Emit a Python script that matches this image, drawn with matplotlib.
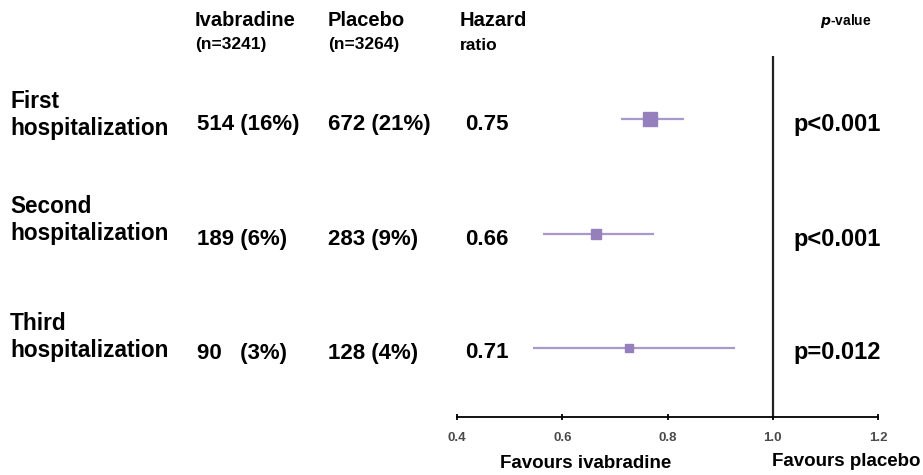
import matplotlib.pyplot as plt

plt.rcParams['font.family'] = ['Liberation Sans', 'DejaVu Sans']

# data
rows = ['First\nhospitalization', 'Second\nhospitalization', 'Third\nhospitalization']
ivabradine = ['514 (16%)', '189 (6%)', '90   (3%)']
placebo = ['672 (21%)', '283 (9%)', '128 (4%)']
hr_labels = ['0.75', '0.66', '0.71']
p_values = ['p<0.001', 'p<0.001', 'p=0.012']
hr_point = [0.767, 0.664, 0.727]
ci_low = [0.712, 0.563, 0.545]
ci_high = [0.832, 0.775, 0.929]
marker_size = [10, 7, 5.5]
xticks = [0.4, 0.6, 0.8, 1.0, 1.2]

W, H = 923, 475
fig = plt.figure(figsize=(W / 100, H / 100), dpi=100)


def fx(px):
    return px / W


def fy(py):
    return 1 - py / H


ax = fig.add_axes([fx(457), fy(417), fx(878) - fx(457), fy(56) - fy(417)])
ax.set_xlim(0.4, 1.2)
ax.set_ylim(2.6, -0.55)

line_col = '#a898cc'
mark_col = '#9580bd'
for i in range(len(rows)):
    ax.plot([ci_low[i], ci_high[i]], [i, i], color=line_col, lw=1.6, solid_capstyle='butt')
    ax.plot(hr_point[i], i, marker='s', ms=marker_size[i], color=mark_col, mec=mark_col)

ax.axvline(1.0, color='#222222', lw=1.6)
for s in ['top', 'left', 'right']:
    ax.spines[s].set_visible(False)
ax.spines['bottom'].set_linewidth(1.3)
ax.set_yticks([])
ax.set_xticks(xticks)
ax.set_xticklabels([f'{t:.1f}' for t in xticks], fontsize=9.5, fontweight='bold', color='#4a4a4a')
ax.tick_params(axis='x', direction='inout', length=5, width=1.3, pad=8)

# column headers
hdr = dict(fontsize=14.5, fontweight='bold', va='center', ha='left')
sub = dict(fontsize=12.5, fontweight='bold', va='center', ha='left')
fig.text(fx(195), fy(21), 'Ivabradine', **hdr)
fig.text(fx(195), fy(45), '(n=3241)', **sub)
fig.text(fx(328), fy(21), 'Placebo', **hdr)
fig.text(fx(328), fy(45), '(n=3264)', **sub)
fig.text(fx(460), fy(21), 'Hazard', **hdr)
fig.text(fx(460), fy(45), 'ratio', **sub)
fig.text(fx(820), fy(21), r'$\bfit{p}$-value', fontsize=10, fontweight='bold', va='center', ha='left')

# row texts
label_y = [115, 220, 337]
value_y = [125, 239, 353]
val = dict(fontsize=16, fontweight='bold', va='center', ha='left')
for i in range(len(rows)):
    fig.text(fx(10), fy(label_y[i]), rows[i], fontsize=16.3, fontweight='bold',
             va='center', ha='left', linespacing=1.2)
    fig.text(fx(197), fy(value_y[i]), ivabradine[i], **val)
    fig.text(fx(328), fy(value_y[i]), placebo[i], **val)
    fig.text(fx(465), fy(value_y[i]), hr_labels[i], **val)
    fig.text(fx(793), fy(value_y[i]), p_values[i], fontsize=17, fontweight='bold',
             va='center', ha='left')

fig.text(fx(586), fy(464), 'Favours ivabradine', fontsize=13.5, fontweight='bold', ha='center', va='center')
fig.text(fx(846), fy(462), 'Favours placebo', fontsize=13.5, fontweight='bold', ha='center', va='center')

fig.savefig('out.png', dpi=100)
